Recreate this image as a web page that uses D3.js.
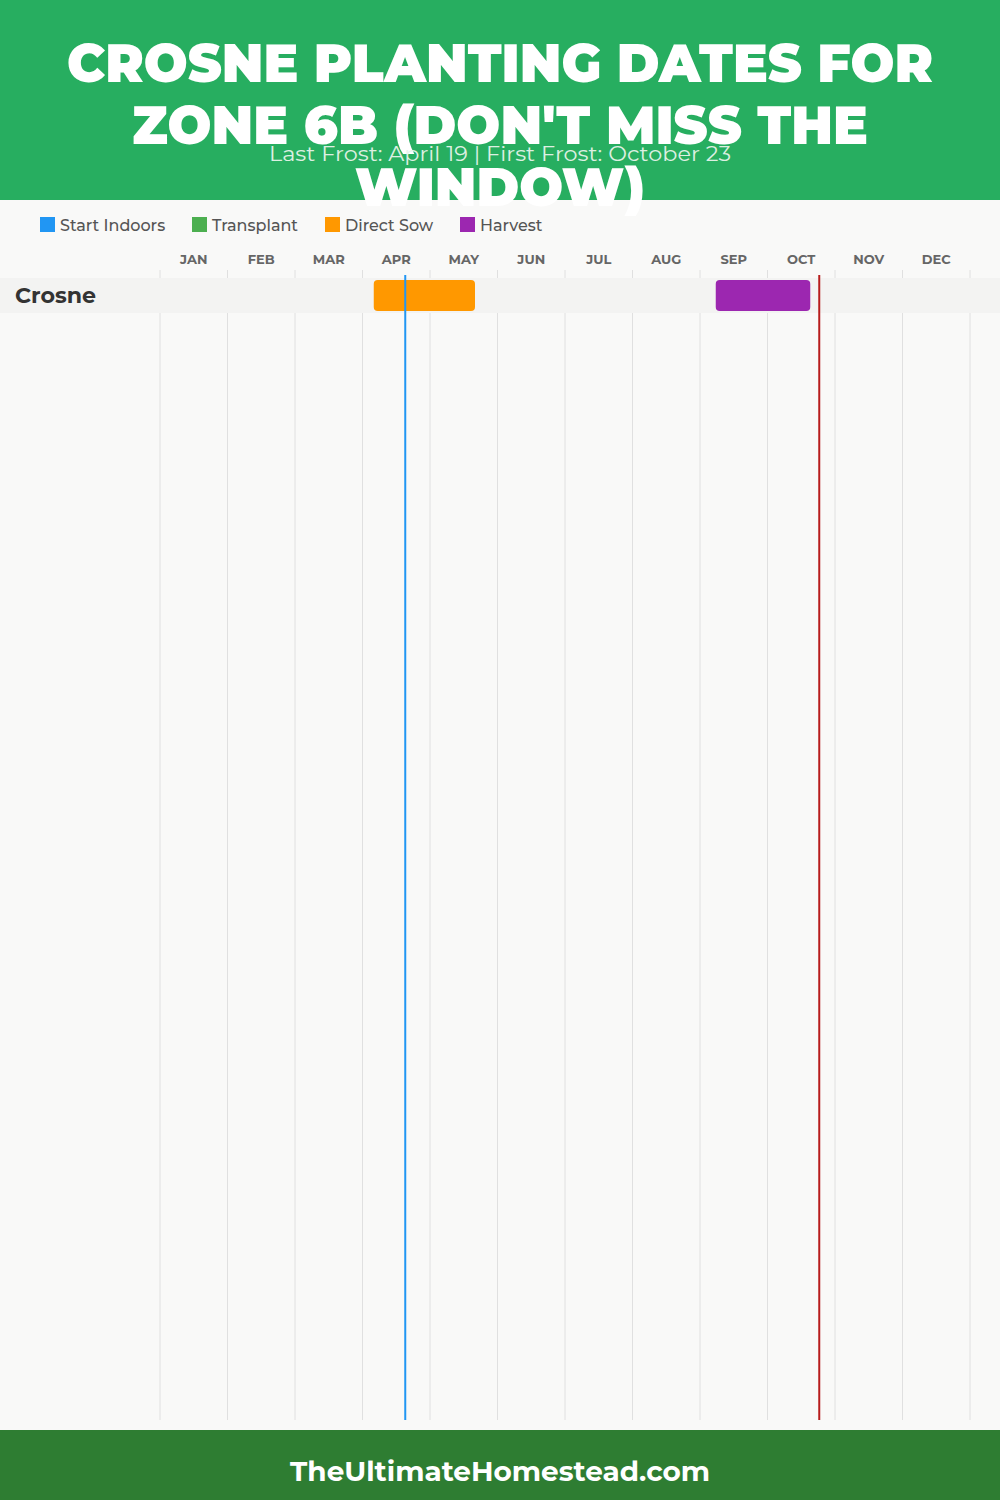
<!DOCTYPE html>
<html>
<head>
<meta charset="utf-8">
<script src="https://cdn.jsdelivr.net/npm/d3@7"></script>
<style>
  html, body { margin: 0; padding: 0; background: #f9f9f8; }
  svg { display: block; }
</style>
</head>
<body>
<svg id="chart" width="1000" height="1500"></svg>
<script>
// ---- data ----
const titleLines = ["CROSNE PLANTING DATES FOR", "ZONE 6B (DON'T MISS THE", "WINDOW)"];
const subtitle = "Last Frost: April 19 | First Frost: October 23";
const footerText = "TheUltimateHomestead.com";
const months = ["JAN","FEB","MAR","APR","MAY","JUN","JUL","AUG","SEP","OCT","NOV","DEC"];
const legendItems = ["Start Indoors", "Transplant", "Direct Sow", "Harvest"];
const legendColors = ["#2196f3", "#4caf50", "#ff9800", "#9c27b0"];
const crops = ["Crosne"];
// periods: [crop, type, startMonth(0-based), startDay, endMonth, endDay]
const periods = [
  ["Crosne", "Direct Sow", 3, 5, 4, 20],
  ["Crosne", "Harvest", 8, 7, 9, 19]
];
const lastFrost = [3, 19];   // April 19
const firstFrost = [9, 23];  // October 23

// ---- drawing ----
const W = 1000, H = 1500;
const svg = d3.select("#chart");
const color = d3.scaleOrdinal().domain(legendItems).range(legendColors);
const x = d3.scaleLinear().domain([0, 12]).range([160, 970]);
const pos = (m, d) => x(m + d / 30);
const rowTop = 278, rowH = 36;
const y = d3.scaleBand().domain(crops).range([rowTop, rowTop + rowH * crops.length]);
const gridTop = 270, gridBottom = 1420;

svg.append("rect").attr("width", W).attr("height", H).attr("fill", "#f9f9f8");

// gridlines
svg.append("g").selectAll("line").data(d3.range(13)).join("line")
  .attr("x1", d => x(d)).attr("x2", d => x(d))
  .attr("y1", gridTop).attr("y2", gridBottom)
  .attr("stroke", "#e0e0e0").attr("stroke-width", 1);

// month labels
svg.append("g").selectAll("text").data(months).join("text")
  .attr("x", (d, i) => x(i + 0.5)).attr("y", 264)
  .attr("text-anchor", "middle")
  .attr("font-family", "Montserrat, Inter, 'Open Sans', sans-serif")
  .attr("font-weight", 700).attr("font-size", 13).attr("fill", "#666")
  .text(d => d);

// row bands
svg.append("g").selectAll("rect").data(crops).join("rect")
  .attr("x", 0).attr("width", W)
  .attr("y", d => y(d)).attr("height", y.bandwidth() - 1)
  .attr("fill", "#f3f3f2");

// row labels
svg.append("g").selectAll("text").data(crops).join("text")
  .attr("x", 15).attr("y", d => y(d) + y.bandwidth() / 2 + 7)
  .attr("font-family", "Montserrat, Inter, 'Open Sans', sans-serif")
  .attr("font-weight", 700).attr("font-size", 21).attr("fill", "#333")
  .attr("textLength", 81).attr("lengthAdjust", "spacingAndGlyphs")
  .text(d => d);

// bars
svg.append("g").selectAll("rect").data(periods).join("rect")
  .attr("x", d => pos(d[2], d[3]))
  .attr("width", d => pos(d[4], d[5]) - pos(d[2], d[3]))
  .attr("y", d => y(d[0]) + 2).attr("height", y.bandwidth() - 5)
  .attr("rx", 4).attr("ry", 4)
  .attr("fill", d => color(d[1]));

// frost lines
svg.append("line")
  .attr("x1", pos(...lastFrost)).attr("x2", pos(...lastFrost))
  .attr("y1", 275).attr("y2", gridBottom)
  .attr("stroke", "#2196f3").attr("stroke-width", 2);
svg.append("line")
  .attr("x1", pos(...firstFrost)).attr("x2", pos(...firstFrost))
  .attr("y1", 275).attr("y2", gridBottom)
  .attr("stroke", "#b71c1c").attr("stroke-width", 2);

// legend
const lx = [40, 192, 325, 460];
const lg = svg.append("g").selectAll("g").data(legendItems).join("g")
  .attr("transform", (d, i) => `translate(${lx[i]},217)`);
lg.append("rect").attr("width", 15).attr("height", 15).attr("fill", d => color(d));
lg.append("text").attr("x", 20).attr("y", 14)
  .attr("font-family", "Montserrat, Inter, 'Open Sans', sans-serif")
  .attr("font-weight", 500).attr("font-size", 16).attr("fill", "#555")
  .text(d => d);

// header
svg.append("rect").attr("x", 0).attr("y", 0).attr("width", W).attr("height", 200).attr("fill", "#27ae60");
const titleWidths = [866, 736, 290];
svg.append("g").selectAll("text").data(titleLines).join("text")
  .attr("x", W / 2).attr("y", (d, i) => 82 + i * 62)
  .attr("text-anchor", "middle")
  .attr("font-family", "Montserrat, Inter, 'Open Sans', sans-serif")
  .attr("font-weight", 900).attr("font-size", 54).attr("fill", "#fff")
  .attr("textLength", (d, i) => titleWidths[i])
  .attr("lengthAdjust", "spacingAndGlyphs")
  .text(d => d);
svg.append("text")
  .attr("x", W / 2).attr("y", 161)
  .attr("text-anchor", "middle")
  .attr("font-family", "Montserrat, Inter, 'Open Sans', sans-serif")
  .attr("font-size", 20).attr("fill", "#e6f4ea").attr("opacity", 0.95)
  .attr("textLength", 462).attr("lengthAdjust", "spacingAndGlyphs")
  .text(subtitle);

// footer
svg.append("rect").attr("x", 0).attr("y", 1430).attr("width", W).attr("height", 70).attr("fill", "#2e7d32");
svg.append("text")
  .attr("x", W / 2).attr("y", 1481)
  .attr("text-anchor", "middle")
  .attr("font-family", "Montserrat, Inter, 'Open Sans', sans-serif")
  .attr("font-weight", 700).attr("font-size", 28).attr("fill", "#fff")
  .attr("textLength", 420).attr("lengthAdjust", "spacingAndGlyphs")
  .text(footerText);
</script>
</body>
</html>
